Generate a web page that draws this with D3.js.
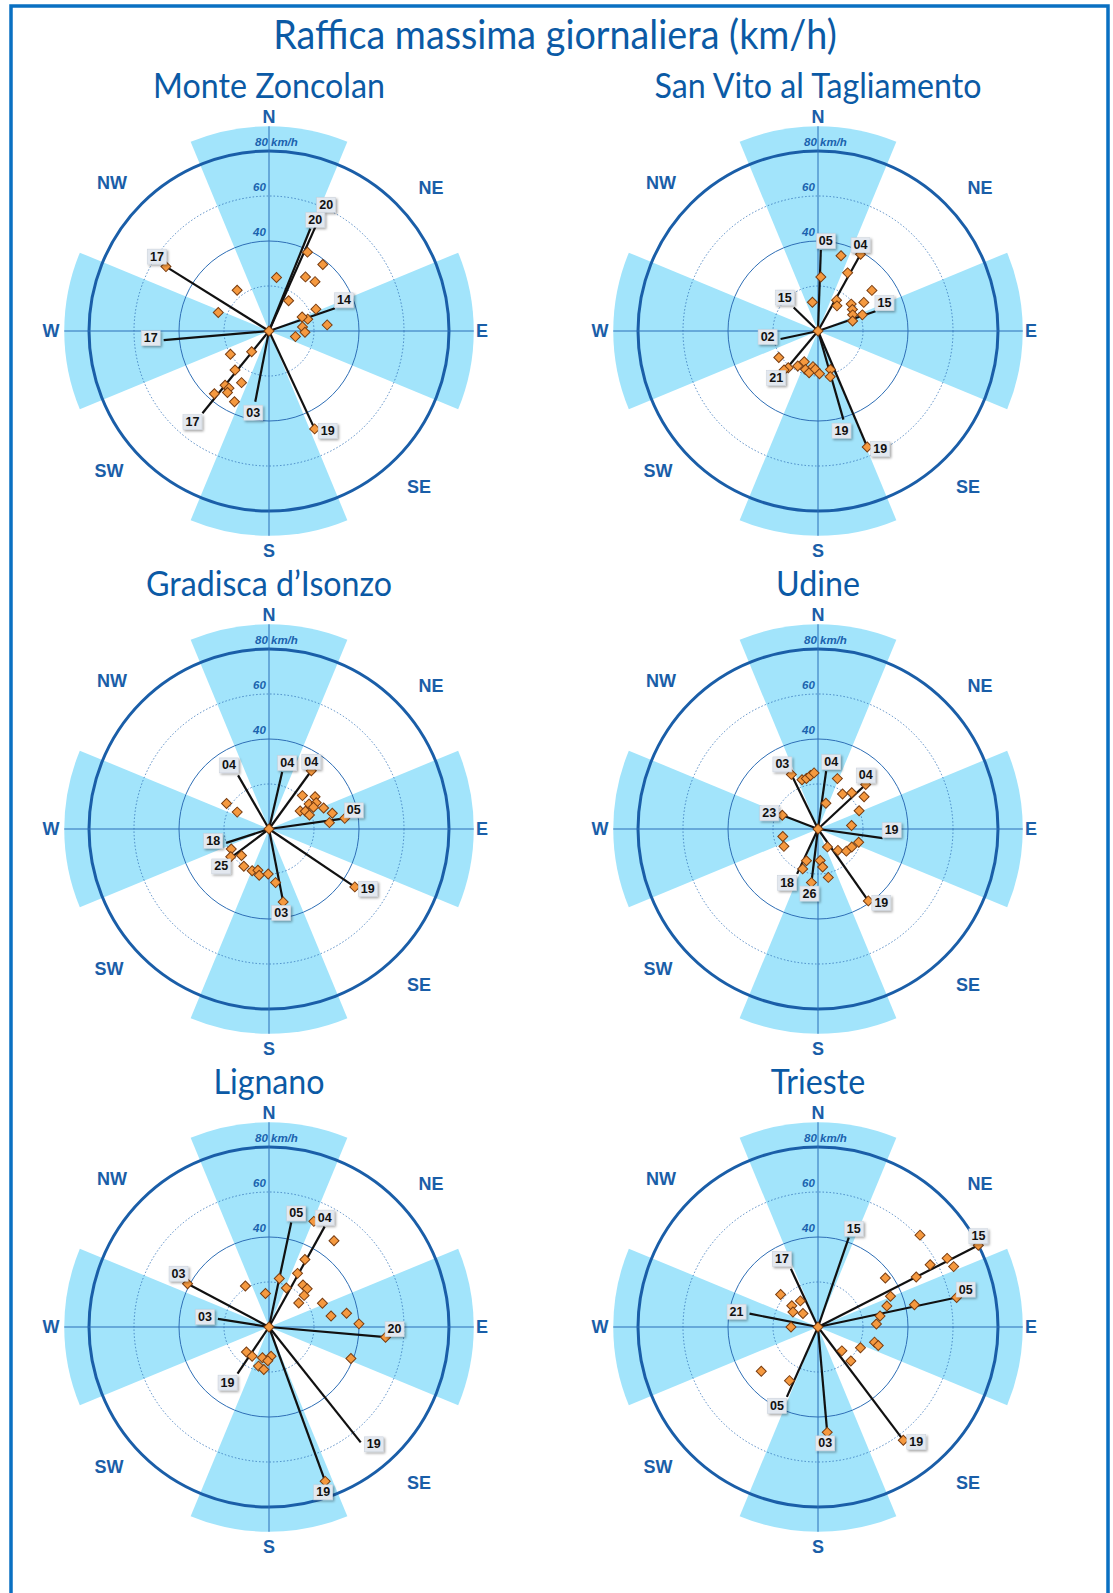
<!DOCTYPE html>
<html>
<head>
<meta charset="utf-8">
<script src="https://cdn.jsdelivr.net/npm/d3@7"></script>
<style>
  body { margin: 0; background: #fff; }
</style>
</head>
<body>
<div id="chart"></div>
<script>
// station names, in reading order (2 columns x 3 rows)
const stationNames = ['Monte Zoncolan', 'San Vito al Tagliamento', 'Gradisca d’Isonzo', 'Udine', 'Lignano', 'Trieste'];

// daily max gusts: [direction deg, km/h]
const zoncolanPoints = [[0,0],[302,54],[322,23],[290,24],[8,24],[33,16],[26,39],[39,38],[34,29],[43,30],[65,23],[73,18],[67,16],[83,15],[84,26],[92,16],[102,12],[239,20],[220,12],[221,23],[208,26],[219,31],[215,31],[214,33],[221,37],[206,35],[155,48]];
const sanVitoPoints = [[0,0],[3,24],[17,35],[29,39],[27,29],[31,16],[37,14],[349,13],[53,30],[58,24],[51,19],[58,18],[65,17],[70,21],[74,16],[236,21],[219,21],[210,18],[204,15],[198,18],[192,19],[188,16],[184,17],[178,19],[162,18],[165,21],[157,56],[221,23]];
const gradiscaPoints = [[0,0],[301,22],[298,16],[36,32],[45,21],[55,25],[58,21],[61,24],[64,22],[69,26],[60,16],[64,18],[71,19],[76,29],[84,27],[82,34],[242,19],[234,21],[226,17],[214,20],[202,20],[195,19],[192,21],[181,20],[173,24],[169,33],[124,46]];
const udinePoints = [[0,0],[334,27],[342,23],[347,23],[352,24],[356,25],[21,24],[17,12],[35,19],[43,22],[55,25],[66,20],[84,15],[47,29],[291,17],[258,16],[243,17],[152,9],[137,13],[128,16],[118,17],[108,19],[200,15],[201,19],[176,14],[173,17],[168,22],[187,24],[145,39]];
const lignanoPoints = [[0,0],[23,51],[37,48],[28,34],[28,27],[12,22],[24,19],[39,24],[45,24],[48,21],[51,17],[330,21],[354,15],[66,26],[80,35],[80,28],[88,40],[111,39],[95,52],[298,41],[222,15],[210,15],[192,14],[176,13],[182,15],[195,18],[187,19],[160,73]];
const triestePoints = [[0,0],[48,61],[62,65],[61,57],[66,66],[63,49],[54,37],[67,35],[73,32],[77,44],[80,28],[87,26],[105,26],[107,28],[116,21],[135,15],[136,21],[143,63],[175,47],[78,63],[63,80],[311,22],[326,14],[309,15],[301,13],[312,9],[270,12],[232,32],[208,27]];

// highlighted gusts with day label: [direction deg, km/h, day]
const zoncolanPeaks = [[24,57,'20'],[22,49,'20'],[302,54,'17'],[265,47,'17'],[219,47,'17'],[191,32,'03'],[155,48,'19'],[71,31,'14']];
const sanVitoPeaks = [[2,36,'05'],[29,39,'04'],[314,15,'15'],[71,27,'15'],[258,17,'02'],[220,22,'21'],[164,41,'19'],[157,56,'19']];
const gradiscaPeaks = [[330,27.5,'04'],[13,26,'04'],[36,32,'04'],[82,34,'05'],[252,20,'18'],[233,21,'25'],[169,33,'03'],[124,46,'19']];
const udinePeaks = [[334,27,'03'],[8,26,'04'],[47,29,'04'],[291,17,'23'],[98,29,'19'],[145,39,'19'],[205,22,'18'],[187,24,'26']];
const lignanoPeaks = [[12,47.5,'05'],[29,51,'04'],[298,41,'03'],[279,23,'03'],[95,52,'20'],[214,25,'19'],[141.5,65.5,'19'],[160,73,'19']];
const triestePeaks = [[19,42,'15'],[335,28.5,'17'],[281,31,'21'],[63,80,'15'],[78,63,'05'],[204,34,'05'],[175,47,'03'],[143,63,'19']];

const allPoints = [zoncolanPoints, sanVitoPoints, gradiscaPoints, udinePoints, lignanoPoints, triestePoints];
const allPeaks = [zoncolanPeaks, sanVitoPeaks, gradiscaPeaks, udinePeaks, lignanoPeaks, triestePeaks];

const ringValues = [20, 40, 60, 80];
const ringLabels = ['', '40', '60', '80 km/h'];
const compassLabels = ['N', 'NE', 'E', 'SE', 'S', 'SW', 'W', 'NW'];
const sectorDirs = [0, 90, 180, 270];

const width = 1113, height = 1593;
const colX = [269, 818];
const rowY = [331, 829, 1327];
const blue = '#1a5ea8';
const titleBlue = '#0b5aa5';

// where the compass words sit around the rose (x, y from the centre)
const compassPos = [[0,-214],[162,-143],[213,0],[150,156],[0,220],[-160,140],[-218,0],[-157,-148]];

// where a day box sits from the end of its line, by direction of the line
function boxOffset(a) {
    if (a >= 340 || a < 25) return [5, -9];
    if (a < 66) return [0, -9];
    if (a < 110) return [9, -8];
    if (a < 158.5) return [13, 2];
    if (a < 200) return [-2, 11];
    if (a < 245) return [-10, 9];
    if (a < 295) return [-13, -2];
    return [-9, -10];
}

const svg = d3.select('#chart').append('svg')
    .attr('width', width)
    .attr('height', height)
    .style('font-family', 'Liberation Sans, Arial, sans-serif');

const defs = svg.append('defs');
const shadow = defs.append('filter').attr('id', 'shadow')
    .attr('x', '-30%').attr('y', '-30%').attr('width', '170%').attr('height', '170%');
shadow.append('feDropShadow')
    .attr('dx', 1.5).attr('dy', 1.5).attr('stdDeviation', 1)
    .attr('flood-color', '#000').attr('flood-opacity', 0.35);

// frame (open at the bottom)
svg.append('path')
    .attr('d', `M11,${height + 5}V6H1108V${height + 5}`)
    .attr('fill', 'none')
    .attr('stroke', '#0a70c2')
    .attr('stroke-width', 3.5);

svg.append('text')
    .attr('class', 'title')
    .attr('x', 555).attr('y', 49)
    .attr('text-anchor', 'middle')
    .attr('fill', titleBlue)
    .style('font-size', '41px')
    .text('Raffica massima giornaliera (km/h)');

const rScale = d3.scaleLinear().domain([0, 80]).range([0, 180]);
const rad = deg => deg * Math.PI / 180;
const outerR = rScale(91);

const sector = d3.arc()
    .innerRadius(0)
    .outerRadius(outerR)
    .startAngle(d => rad(d - 22.5))
    .endAngle(d => rad(d + 22.5));

const diamond = d3.symbol().type(d3.symbolSquare).size(50);

stationNames.forEach((name, i) => {
    const cx = colX[i % 2], cy = rowY[Math.floor(i / 2)];
    const g = svg.append('g').attr('transform', `translate(${cx},${cy})`);

    svg.append('text')
        .attr('class', 'title')
        .attr('x', cx).attr('y', cy - 233)
        .attr('text-anchor', 'middle')
        .attr('fill', titleBlue)
        .style('font-size', '35px')
        .text(name);

    g.selectAll('.sector').data(sectorDirs).enter().append('path')
        .attr('class', 'sector')
        .attr('d', sector)
        .attr('fill', '#a2e4fb');

    g.selectAll('.ring').data(ringValues).enter().append('circle')
        .attr('class', 'ring')
        .attr('r', d => rScale(d))
        .attr('fill', 'none')
        .attr('stroke', d => d === 80 ? blue : '#2f6fb6')
        .attr('stroke-width', d => d === 80 ? 3 : (d === 40 ? 1 : 0.8))
        .attr('stroke-dasharray', d => (d === 20 || d === 60) ? '1.5,2' : null);

    // cross axes
    [0, 90].forEach(a => {
        const p = d3.pointRadial(rad(a), outerR);
        g.append('line')
            .attr('x1', -p[0]).attr('y1', -p[1])
            .attr('x2', p[0]).attr('y2', p[1])
            .attr('stroke', '#2a6fb8').attr('stroke-width', 1);
    });

    g.selectAll('.rlabel').data(ringValues).enter().append('text')
        .attr('class', 'rlabel')
        .attr('x', d => d === 80 ? -14 : -16)
        .attr('y', d => -rScale(d) - 5)
        .attr('fill', '#1a62ae')
        .style('font-size', '11.5px')
        .style('font-style', 'italic')
        .style('font-weight', 'bold')
        .text((d, k) => ringLabels[k]);

    g.selectAll('.compass').data(compassLabels).enter().append('text')
        .attr('class', 'compass')
        .attr('x', (d, k) => compassPos[k][0])
        .attr('y', (d, k) => compassPos[k][1])
        .attr('text-anchor', 'middle')
        .attr('dominant-baseline', 'central')
        .attr('fill', blue)
        .style('font-size', '18px')
        .style('font-weight', 'bold')
        .text(d => d);

    const peaks = allPeaks[i];
    const endOf = d => d3.pointRadial(rad(d[0]), rScale(d[1]));

    g.selectAll('.peak').data(peaks).enter().append('line')
        .attr('class', 'peak')
        .attr('x1', 0).attr('y1', 0)
        .attr('x2', d => endOf(d)[0])
        .attr('y2', d => endOf(d)[1])
        .attr('stroke', '#111')
        .attr('stroke-width', 2.2);

    g.selectAll('.pt').data(allPoints[i]).enter().append('path')
        .attr('class', 'pt')
        .attr('d', diamond)
        .attr('transform', d => {
            const p = endOf(d);
            return `translate(${p[0]},${p[1]}) rotate(45)`;
        })
        .attr('fill', '#f5993f')
        .attr('stroke', '#7a3d10')
        .attr('stroke-width', 1);

    const lab = g.selectAll('.lab').data(peaks).enter().append('g')
        .attr('class', 'lab')
        .attr('transform', d => {
            const p = endOf(d), o = boxOffset(d[0]);
            return `translate(${p[0] + o[0]},${p[1] + o[1]})`;
        });
    lab.append('rect')
        .attr('x', -9.5).attr('y', -7.5)
        .attr('width', 19).attr('height', 15)
        .attr('fill', '#e3e8ef')
        .attr('stroke', '#c8d0da').attr('stroke-width', 0.5)
        .attr('filter', 'url(#shadow)');
    lab.append('text')
        .attr('text-anchor', 'middle')
        .attr('dominant-baseline', 'central')
        .attr('fill', '#111')
        .style('font-size', '12.5px')
        .style('font-weight', 'bold')
        .text(d => d[2]);
});

// titles use a narrower cut of Lato, like the original condensed face
svg.selectAll('.title')
    .style('font-family', 'Lato, sans-serif')
    .each(function() {
        const w = this.getComputedTextLength();
        d3.select(this)
            .attr('textLength', w * 0.92)
            .attr('lengthAdjust', 'spacingAndGlyphs');
    });
</script>
</body>
</html>
